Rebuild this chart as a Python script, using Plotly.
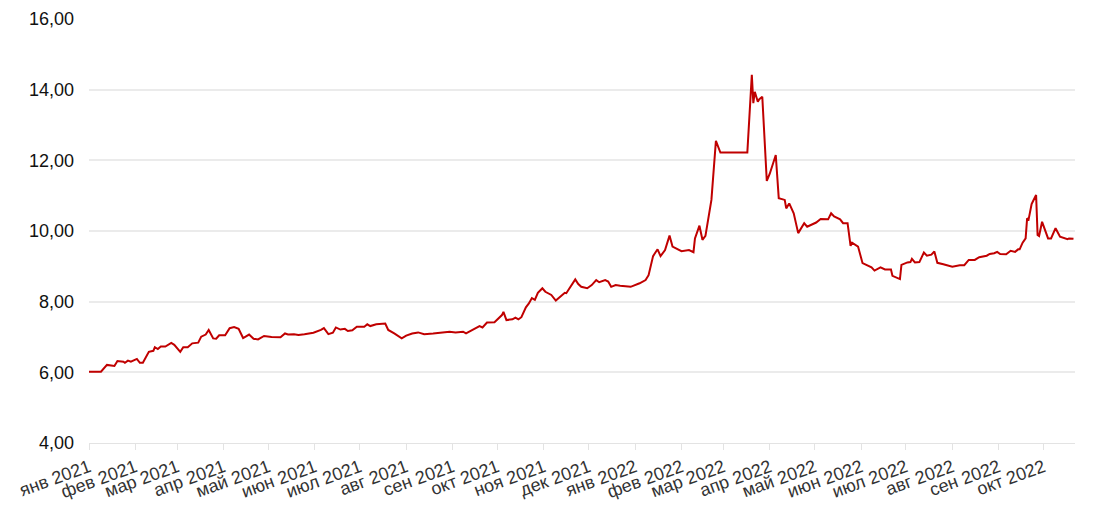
import plotly.graph_objects as go

dates = [
    "2021-01-01", "2021-01-09", "2021-01-13", "2021-01-18", "2021-01-20", "2021-01-24", "2021-01-25",
    "2021-01-27", "2021-01-29", "2021-02-02", "2021-02-04", "2021-02-06", "2021-02-10", "2021-02-13",
    "2021-02-14", "2021-02-16", "2021-02-18", "2021-02-21", "2021-02-25", "2021-02-27", "2021-03-03",
    "2021-03-05", "2021-03-08", "2021-03-11", "2021-03-15", "2021-03-17", "2021-03-20", "2021-03-22",
    "2021-03-25", "2021-03-27", "2021-03-29", "2021-04-02", "2021-04-05", "2021-04-08", "2021-04-11",
    "2021-04-13", "2021-04-14", "2021-04-18", "2021-04-21", "2021-04-24", "2021-04-28", "2021-05-03",
    "2021-05-07", "2021-05-09", "2021-05-12", "2021-05-14", "2021-05-18", "2021-05-21", "2021-05-25",
    "2021-05-31", "2021-06-05", "2021-06-07", "2021-06-10", "2021-06-13", "2021-06-15", "2021-06-18",
    "2021-06-21", "2021-06-23", "2021-06-26", "2021-06-29", "2021-07-04", "2021-07-06", "2021-07-08",
    "2021-07-12", "2021-07-18", "2021-07-20", "2021-07-24", "2021-07-29", "2021-08-01", "2021-08-05",
    "2021-08-09", "2021-08-13", "2021-08-19", "2021-08-25", "2021-08-30", "2021-09-03", "2021-09-08",
    "2021-09-10", "2021-09-14", "2021-09-19", "2021-09-21", "2021-09-24", "2021-09-29", "2021-10-02",
    "2021-10-04", "2021-10-05", "2021-10-07", "2021-10-11", "2021-10-13", "2021-10-15", "2021-10-17",
    "2021-10-20", "2021-10-22", "2021-10-24", "2021-10-26", "2021-10-28", "2021-10-31", "2021-11-02",
    "2021-11-06", "2021-11-09", "2021-11-12", "2021-11-15", "2021-11-16", "2021-11-18", "2021-11-20",
    "2021-11-22", "2021-11-24", "2021-11-26", "2021-11-30", "2021-12-03", "2021-12-06", "2021-12-08",
    "2021-12-12", "2021-12-14", "2021-12-16", "2021-12-19", "2021-12-22", "2021-12-29", "2022-01-04",
    "2022-01-08", "2022-01-10", "2022-01-13", "2022-01-15", "2022-01-16", "2022-01-18", "2022-01-21",
    "2022-01-24", "2022-01-26", "2022-02-01", "2022-02-06", "2022-02-09", "2022-02-10", "2022-02-13",
    "2022-02-15", "2022-02-17", "2022-02-21", "2022-02-24", "2022-02-27", "2022-03-17", "2022-03-20",
    "2022-03-21", "2022-03-22", "2022-03-24", "2022-03-25", "2022-03-27", "2022-03-30", "2022-04-01",
    "2022-04-05", "2022-04-07", "2022-04-11", "2022-04-12", "2022-04-14", "2022-04-17", "2022-04-20",
    "2022-04-24", "2022-04-26", "2022-05-02", "2022-05-05", "2022-05-10", "2022-05-12", "2022-05-14",
    "2022-05-18", "2022-05-20", "2022-05-23", "2022-05-25", "2022-05-26", "2022-05-30", "2022-06-02",
    "2022-06-08", "2022-06-10", "2022-06-14", "2022-06-17", "2022-06-21", "2022-06-22", "2022-06-27",
    "2022-06-28", "2022-07-02", "2022-07-04", "2022-07-05", "2022-07-07", "2022-07-10", "2022-07-13",
    "2022-07-15", "2022-07-18", "2022-07-20", "2022-07-22", "2022-07-26", "2022-07-29", "2022-08-01",
    "2022-08-06", "2022-08-09", "2022-08-12", "2022-08-16", "2022-08-19", "2022-08-22", "2022-08-24",
    "2022-08-26", "2022-08-29", "2022-08-31", "2022-09-02", "2022-09-06", "2022-09-09", "2022-09-12",
    "2022-09-14", "2022-09-15", "2022-09-17", "2022-09-19", "2022-09-20", "2022-09-21", "2022-09-23",
    "2022-09-24", "2022-09-26", "2022-09-27", "2022-09-28", "2022-09-30", "2022-10-04", "2022-10-06",
    "2022-10-09", "2022-10-12", "2022-10-14", "2022-10-17", "2022-10-18", "2022-10-21",
]

values = [
    6.02, 6.02, 6.21, 6.18, 6.32, 6.30, 6.27,
    6.33, 6.30, 6.38, 6.27, 6.27, 6.58, 6.61,
    6.71, 6.66, 6.73, 6.73, 6.83, 6.78, 6.58,
    6.71, 6.71, 6.82, 6.84, 7.01, 7.07, 7.20,
    6.96, 6.95, 7.05, 7.05, 7.25, 7.28, 7.23,
    7.06, 6.97, 7.07, 6.95, 6.93, 7.03, 7.00,
    6.98, 6.99, 7.10, 7.07, 7.08, 7.06, 7.08,
    7.12, 7.20, 7.25, 7.08, 7.12, 7.27, 7.21,
    7.23, 7.17, 7.19, 7.29, 7.29, 7.36, 7.31,
    7.36, 7.38, 7.20, 7.10, 6.96, 7.04, 7.10,
    7.13, 7.08, 7.10, 7.13, 7.15, 7.13, 7.15,
    7.10, 7.20, 7.31, 7.27, 7.41, 7.42, 7.53,
    7.62, 7.71, 7.48, 7.50, 7.55, 7.50, 7.56,
    7.84, 7.95, 8.10, 8.05, 8.25, 8.38, 8.28,
    8.19, 8.03, 8.14, 8.25, 8.24, 8.38, 8.52,
    8.63, 8.50, 8.42, 8.38, 8.47, 8.61, 8.55,
    8.61, 8.57, 8.42, 8.47, 8.45, 8.42, 8.52,
    8.61, 8.75, 9.29, 9.42, 9.48, 9.29, 9.46,
    9.87, 9.56, 9.43, 9.46, 9.40, 9.79, 10.15,
    9.75, 9.86, 10.88, 12.55, 12.22, 12.22, 14.42,
    13.62, 13.94, 13.66, 13.73, 13.80, 11.42, 11.62,
    12.15, 10.93, 10.88, 10.64, 10.78, 10.50, 9.94,
    10.22, 10.12, 10.24, 10.34, 10.33, 10.50, 10.41,
    10.33, 10.22, 10.22, 9.58, 9.67, 9.56, 9.09,
    8.97, 8.88, 8.97, 8.91, 8.91, 8.73, 8.64,
    9.04, 9.11, 9.12, 9.21, 9.11, 9.12, 9.39,
    9.30, 9.33, 9.42, 9.10, 9.06, 9.03, 8.99,
    9.03, 9.03, 9.18, 9.18, 9.26, 9.28, 9.30,
    9.35, 9.37, 9.41, 9.35, 9.34, 9.44, 9.41,
    9.48, 9.48, 9.67, 9.79, 10.36, 10.33, 10.76,
    10.85, 11.02, 9.89, 9.86, 10.26, 9.79, 9.79,
    10.08, 9.84, 9.82, 9.77, 9.79, 9.78,
]

tick_dates = [
    "2021-01-01", "2021-02-01", "2021-03-01", "2021-04-01", "2021-05-01", "2021-06-01",
    "2021-07-01", "2021-08-01", "2021-09-01", "2021-10-01", "2021-11-01", "2021-12-01",
    "2022-01-01", "2022-02-01", "2022-03-01", "2022-04-01", "2022-05-01", "2022-06-01",
    "2022-07-01", "2022-08-01", "2022-09-01", "2022-10-01",
]
tick_labels = [
    "янв 2021", "фев 2021", "мар 2021", "апр 2021", "май 2021", "июн 2021",
    "июл 2021", "авг 2021", "сен 2021", "окт 2021", "ноя 2021", "дек 2021",
    "янв 2022", "фев 2022", "мар 2022", "апр 2022", "май 2022", "июн 2022",
    "июл 2022", "авг 2022", "сен 2022", "окт 2022",
]
y_ticks = [4, 6, 8, 10, 12, 14, 16]

fig = go.Figure()
fig.add_trace(go.Scatter(
    x=dates, y=values, mode="lines",
    line=dict(color="#c00000", width=2),
    hoverinfo="x+y",
))

fig.update_layout(
    width=1100, height=513,
    margin=dict(l=81, r=33, t=11, b=78),
    paper_bgcolor="white", plot_bgcolor="white",
    separators=", ",
    showlegend=False,
    font=dict(family="Liberation Sans, Arial, sans-serif", size=18, color="#111"),
)
fig.update_xaxes(
    type="date",
    range=["2021-01-01", "2022-10-22"],
    tickmode="array", tickvals=tick_dates, ticktext=tick_labels,
    tickangle=-20,
    tickfont=dict(size=18, color="#333"),
    showgrid=False,
    showline=True, linecolor="#e3e3e3", linewidth=1,
    ticks="outside", ticklen=6, tickcolor="#e3e3e3",
    automargin=False,
)
fig.update_yaxes(
    range=[4, 16],
    tickmode="array", tickvals=y_ticks,
    tickformat=".2f",
    tickfont=dict(size=18, color="#111"),
    showgrid=True, gridcolor="#ebebeb", gridwidth=2,
    zeroline=False, showline=False,
    ticklabelstandoff=14,
    automargin=False,
)

fig.write_html("out.html")
